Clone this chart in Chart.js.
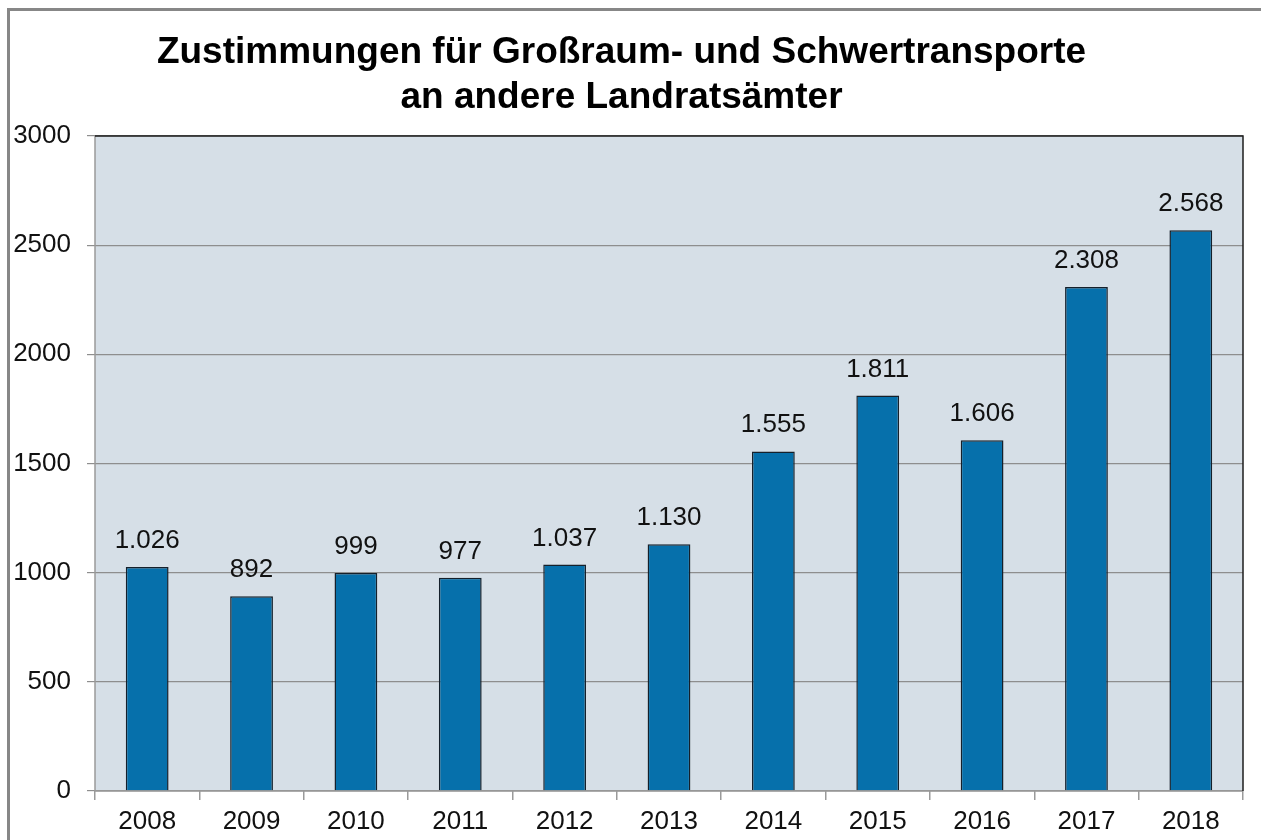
<!DOCTYPE html>
<html lang="de">
<head>
  <meta charset="UTF-8">
  <title>Zustimmungen</title>
  <script src="https://cdn.jsdelivr.net/npm/chart.js"></script>
  <style>
    html, body { margin: 0; padding: 0; background: #fff; }
    canvas { display: block; }
  </style>
</head>
<body>
  <canvas id="chart" width="1261" height="840"></canvas>
  <script>
    const years = ['2008', '2009', '2010', '2011', '2012', '2013', '2014', '2015', '2016', '2017', '2018'];
    const approvals = [1026, 892, 999, 977, 1037, 1130, 1555, 1811, 1606, 2308, 2568];
    const titleLines = ['Zustimmungen für Großraum- und Schwertransporte', 'an andere Landratsämter'];

    // 1026 -> "1.026"
    function fmt(v) {
      const s = String(v);
      return s.length > 3 ? s.slice(0, s.length - 3) + '.' + s.slice(-3) : s;
    }

    // frame, plot background and plot border
    const plotDeco = {
      id: 'plotDeco',
      beforeDraw(chart) {
        const ctx = chart.ctx, a = chart.chartArea;
        ctx.save();
        ctx.fillStyle = '#fff';
        ctx.fillRect(0, 0, chart.width, chart.height);
        ctx.strokeStyle = '#878787';
        ctx.lineWidth = 3;
        ctx.beginPath();
        ctx.moveTo(8.5, chart.height);
        ctx.lineTo(8.5, 9.5);
        ctx.lineTo(chart.width, 9.5);
        ctx.stroke();
        ctx.fillStyle = '#d6dfe7';
        ctx.fillRect(a.left, a.top, a.right - a.left, a.bottom - a.top);
        ctx.restore();
      },
      afterDraw(chart) {
        const ctx = chart.ctx, a = chart.chartArea;
        ctx.save();
        ctx.lineWidth = 1.5;
        ctx.strokeStyle = '#9a9a9a';
        ctx.beginPath();
        ctx.moveTo(a.left, a.top);
        ctx.lineTo(a.left, a.bottom);
        ctx.lineTo(a.right, a.bottom);
        ctx.stroke();
        ctx.strokeStyle = '#1e1e1e';
        ctx.beginPath();
        ctx.moveTo(a.left, a.top);
        ctx.lineTo(a.right, a.top);
        ctx.lineTo(a.right, a.bottom);
        ctx.stroke();
        ctx.restore();
      }
    };

    // value labels above the bars
    const valueLabels = {
      id: 'valueLabels',
      afterDatasetsDraw(chart) {
        const ctx = chart.ctx;
        const meta = chart.getDatasetMeta(0);
        ctx.save();
        ctx.font = '26px "Liberation Sans", Arial, sans-serif';
        ctx.fillStyle = '#111';
        ctx.textAlign = 'center';
        ctx.textBaseline = 'alphabetic';
        meta.data.forEach((bar, i) => {
          ctx.fillText(fmt(approvals[i]), bar.x, bar.y - 19);
        });
        ctx.restore();
      }
    };

    new Chart(document.getElementById('chart'), {
      type: 'bar',
      data: {
        labels: years,
        datasets: [{
          data: approvals,
          backgroundColor: '#0670ab',
          borderColor: '#15202b',
          borderWidth: 1.5,
          barPercentage: 0.41,
          categoryPercentage: 1
        }]
      },
      options: {
        responsive: false,
        animation: false,
        layout: { padding: { left: 0, right: 18, top: 0, bottom: 0 } },
        plugins: {
          legend: { display: false },
          tooltip: { enabled: false },
          title: {
            display: true,
            text: titleLines,
            color: '#000',
            font: { family: '"Liberation Sans", Arial, sans-serif', size: 37, weight: 'bold', lineHeight: 1.216 },
            padding: { top: 30.5, bottom: 15.5 }
          }
        },
        scales: {
          x: {
            afterFit(scale) { scale.height = 49; },
            border: { display: false },
            grid: { drawOnChartArea: false, drawTicks: true, tickLength: 9, offset: true, color: '#9a9a9a', lineWidth: 1.5 },
            ticks: { color: '#111', padding: 6, font: { family: '"Liberation Sans", Arial, sans-serif', size: 26 } }
          },
          y: {
            min: 0,
            max: 3000,
            afterFit(scale) { scale.width = 95; },
            border: { display: false },
            grid: { color: '#8e8e8e', lineWidth: 1.2, tickLength: 8, drawTicks: true },
            ticks: {
              stepSize: 500,
              color: '#111',
              padding: 16,
              font: { family: '"Liberation Sans", Arial, sans-serif', size: 26 },
              callback: (v) => String(v)
            }
          }
        }
      },
      plugins: [plotDeco, valueLabels]
    });
  </script>
</body>
</html>
